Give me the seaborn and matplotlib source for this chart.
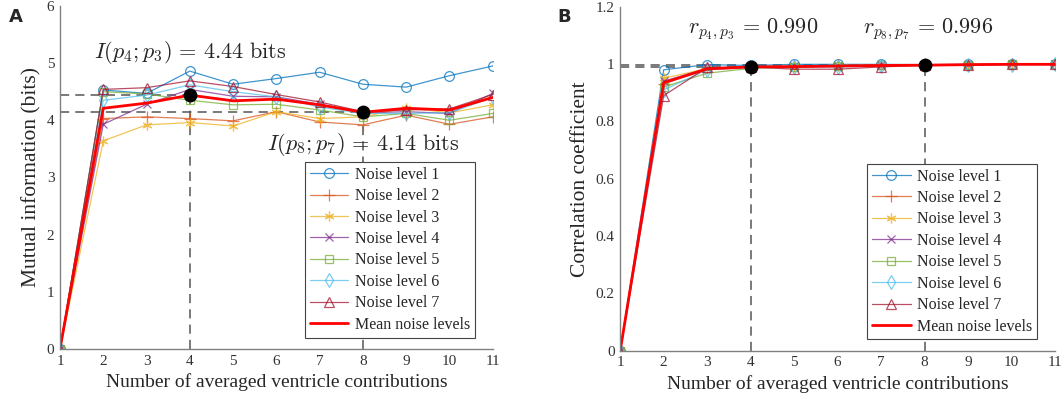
import numpy as np
import pandas as pd
import matplotlib
matplotlib.use("Agg")
import matplotlib.pyplot as plt
import seaborn as sns

sns.set_style("white")
plt.rcParams["font.family"] = ["Liberation Serif", "DejaVu Serif"]
plt.rcParams["mathtext.fontset"] = "cm"

# Data
contributions = list(range(1, 12))
series_names = ["Noise level 1", "Noise level 2", "Noise level 3", "Noise level 4",
                "Noise level 5", "Noise level 6", "Noise level 7"]

mi_noise1 = [0, 4.53, 4.47, 4.86, 4.63, 4.73, 4.84, 4.63, 4.58, 4.78, 4.95]
mi_noise2 = [0, 4.03, 4.06, 4.03, 3.99, 4.15, 3.97, 3.92, 4.09, 3.93, 4.06]
mi_noise3 = [0, 3.64, 3.92, 3.96, 3.90, 4.15, 4.03, 4.06, 4.22, 4.13, 4.27]
mi_noise4 = [0, 3.93, 4.28, 4.54, 4.42, 4.41, 4.28, 4.13, 4.15, 4.12, 4.47]
mi_noise5 = [0, 4.50, 4.46, 4.35, 4.27, 4.28, 4.18, 4.06, 4.12, 4.00, 4.12]
mi_noise6 = [0, 4.35, 4.44, 4.62, 4.50, 4.41, 4.23, 4.12, 4.12, 4.13, 4.40]
mi_noise7 = [0, 4.54, 4.57, 4.69, 4.59, 4.45, 4.32, 4.15, 4.18, 4.20, 4.45]
mi_mean = [0, 4.21, 4.30, 4.44, 4.34, 4.37, 4.27, 4.14, 4.21, 4.18, 4.40]

cc_noise1 = [0, 0.980, 0.998, 0.995, 0.999, 0.999, 0.999, 0.998, 0.999, 0.999, 1.000]
cc_noise2 = [0, 0.930, 0.985, 0.990, 0.993, 0.995, 0.996, 0.997, 0.998, 0.999, 0.999]
cc_noise3 = [0, 0.950, 0.985, 0.990, 0.993, 0.995, 0.996, 0.997, 0.998, 0.999, 0.999]
cc_noise4 = [0, 0.940, 0.985, 0.990, 0.992, 0.994, 0.995, 0.997, 0.998, 0.999, 0.999]
cc_noise5 = [0, 0.920, 0.968, 0.985, 0.990, 0.993, 0.995, 0.996, 0.998, 0.999, 0.999]
cc_noise6 = [0, 0.910, 0.980, 0.988, 0.988, 0.990, 0.993, 0.995, 0.997, 0.998, 0.999]
cc_noise7 = [0, 0.890, 0.988, 0.990, 0.982, 0.982, 0.990, 0.996, 0.998, 0.999, 0.999]
cc_mean = [0, 0.935, 0.983, 0.990, 0.991, 0.993, 0.995, 0.996, 0.998, 0.999, 0.999]

mi_marks = {"x": [4, 8], "y": [4.44, 4.14]}
cc_marks = {"x": [4, 8], "y": [0.990, 0.996]}

colors = ["#0072BD", "#D95319", "#EDB120", "#7E2F8E", "#77AC30", "#4DBEEE", "#A2142F"]
markers = ["o", "+", (6, 2, 0), "x", "s", "d", "^"]
msizes = [7, 8, 7, 6, 6, 7, 7]


def draw_panel(ax, noise, mean, marks, ylim, yticks, ylabel):
    for name, vals, c, m, ms in zip(series_names, noise, colors, markers, msizes):
        df = pd.DataFrame({"x": contributions, "y": vals})
        sns.lineplot(data=df, x="x", y="y", ax=ax, color=c, marker=m, markersize=ms,
                     markerfacecolor="none", markeredgecolor=c, markeredgewidth=0.9,
                     linewidth=0.9, alpha=0.75, label=name)
    df = pd.DataFrame({"x": contributions, "y": mean})
    sns.lineplot(data=df, x="x", y="y", ax=ax, color="red", linewidth=2,
                 label="Mean noise levels")
    for mx, my in zip(marks["x"], marks["y"]):
        ax.plot([1, mx], [my, my], ls=(0, (6, 4)), color="#555555", lw=1.1, zorder=1)
        ax.plot([mx, mx], [0, my], ls=(0, (6, 4)), color="#555555", lw=1.1, zorder=1)
    ax.scatter(marks["x"], marks["y"], s=80, color="black", zorder=5)
    ax.set_xlim(1, 11)
    ax.set_ylim(*ylim)
    ax.set_xticks(contributions)
    ax.set_yticks(yticks)
    ax.set_yticklabels([f"{t:g}" for t in yticks])
    ax.set_xlabel("Number of averaged ventricle contributions", fontsize=14, labelpad=4)
    ax.set_ylabel(ylabel, fontsize=15.5, labelpad=4)
    for s in ["top", "right"]:
        ax.spines[s].set_visible(False)
    for s in ["left", "bottom"]:
        ax.spines[s].set_color("#808080")
        ax.spines[s].set_linewidth(1)
    ax.tick_params(direction="in", length=4, color="#808080", labelsize=11,
                   labelcolor="#333333", pad=4)
    leg = ax.legend(loc="lower right", fontsize=11.5, frameon=True, fancybox=False,
                    edgecolor="#444444", framealpha=1, handlelength=2.4,
                    borderpad=0.3, labelspacing=0.34, handletextpad=0.4,
                    bbox_to_anchor=(0.977, 0.01))
    leg.get_frame().set_linewidth(0.8)


fig = plt.figure(figsize=(10.62, 3.95), dpi=100)
ax1 = fig.add_axes([0.0565, 0.1165, 0.4075, 0.8685])
ax2 = fig.add_axes([0.584, 0.112, 0.4094, 0.871])

draw_panel(ax1, [mi_noise1, mi_noise2, mi_noise3, mi_noise4, mi_noise5, mi_noise6, mi_noise7],
           mi_mean, mi_marks, (0, 6), [0, 1, 2, 3, 4, 5, 6], "Mutual information (bits)")
draw_panel(ax2, [cc_noise1, cc_noise2, cc_noise3, cc_noise4, cc_noise5, cc_noise6, cc_noise7],
           cc_mean, cc_marks, (0, 1.2), [0, 0.2, 0.4, 0.6, 0.8, 1, 1.2], "Correlation coefficient")

ax1.text(4, 5.19, r"$I(p_4;p_3)\,=\,4.44\ \mathrm{bits}$", ha="center", va="center", fontsize=16)
ax1.text(8.0, 3.57, r"$I(p_8;p_7)\,=\,4.14\ \mathrm{bits}$", ha="center", va="center", fontsize=16)
ax2.text(4.06, 1.122, r"$r_{p_4,p_3}\,=\,0.990$", ha="center", va="center", fontsize=16)
ax2.text(8.08, 1.122, r"$r_{p_8,p_7}\,=\,0.996$", ha="center", va="center", fontsize=16)

fig.text(0.008, 0.944, "A", fontsize=13, fontweight="bold", family="DejaVu Sans")
fig.text(0.525, 0.944, "B", fontsize=13, fontweight="bold", family="DejaVu Sans")

fig.savefig("out.png", dpi=100)
